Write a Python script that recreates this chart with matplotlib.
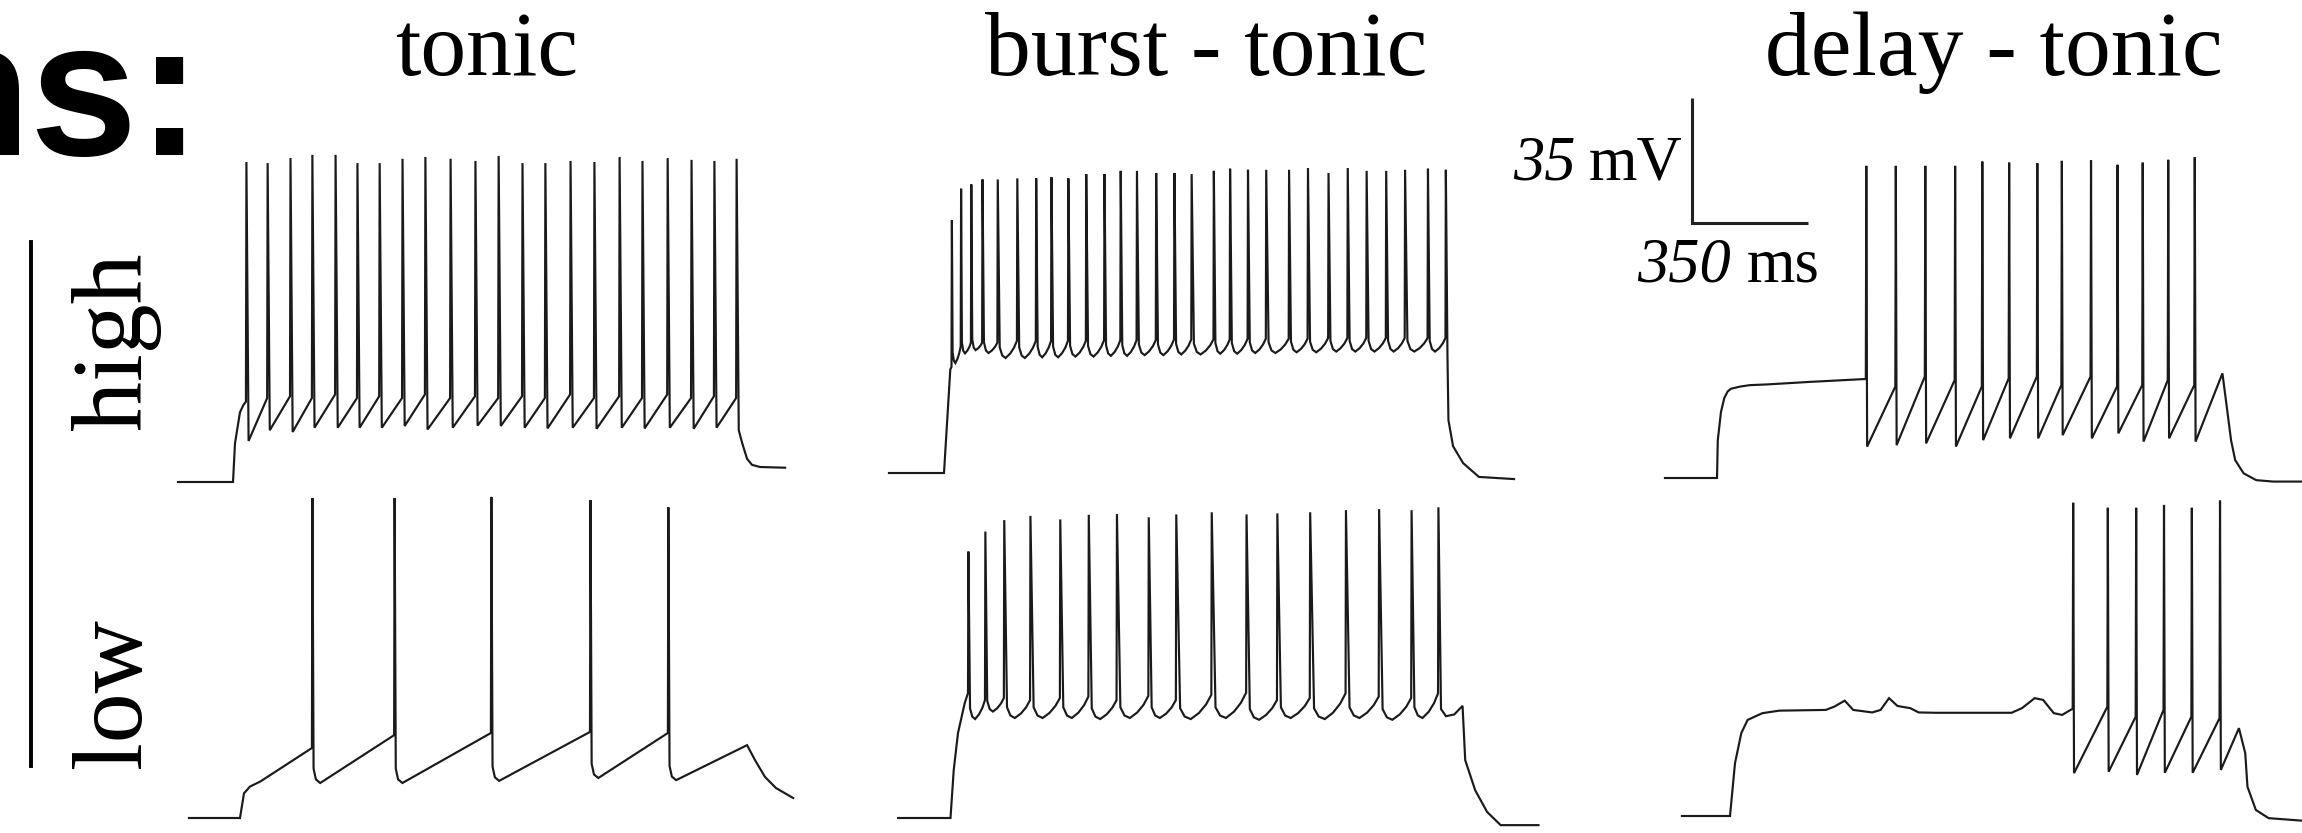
"""Firing-pattern voltage traces: tonic, burst-tonic and delay-tonic at high and low drive."""

import matplotlib
matplotlib.use("Agg")
import matplotlib.pyplot as plt
from matplotlib.lines import Line2D

FIG_W, FIG_H, DPI = 2302, 833, 100
PX_PER_MS = 116 / 350
PX_PER_MV = 125 / 35
V_REST = -65.0

SCALE_MS = 350
SCALE_MV = 35

COLUMN_TITLES = ["tonic", "burst - tonic", "delay - tonic"]
ROW_LABELS = ["high", "low"]

# --- tonic, high drive (ms, mV)
TH_RANGE = [-166, 1666]
TH_ONSET_T = [0, 6, 21, 31]
TH_ONSET_V = [-65, -54.2, -45.5, -43.5]
TH_SPIKES = [39, 103, 172, 238, 308, 374, 441, 510, 579, 655, 730, 800, 872, 941,
             1017, 1089, 1165, 1234, 1310, 1382, 1451, 1518]
TH_PEAKS = [24.6, 24.3, 25.7, 26.6, 26.6, 24.3, 24.3, 25.5, 26.0, 25.5, 24.9, 26.3,
            24.3, 24.3, 24.9, 24.6, 26.0, 24.9, 25.7, 25.2, 24.9, 25.5]
TH_TROUGHS = [-53.5, -50.5, -51.0, -49.8, -49.8, -49.8, -49.8, -49.3, -50.3, -49.8, -49.2,
              -49.3, -49.8, -50.0, -49.8, -50.1, -49.8, -50.0, -49.8, -50.1, -49.8, -50.5]
TH_THRESH = [-42.5, -41.5, -41.0, -41.5, -40.5, -41.5, -41.0, -41.5, -40.5, -41.5, -41.0,
             -41.5, -41.0, -41.5, -40.5, -41.5, -41.0, -41.5, -40.5, -41.5, -41.0, -41.5]
TH_OFFSET_T = [1536, 1551, 1566, 1590, 1666]
TH_OFFSET_V = [-54.0, -58.5, -60.2, -60.8, -61.0]

# --- tonic, low drive
TL_RANGE = [-154, 1669]
TL_ONSET_T = [0, 12, 30, 61]
TL_ONSET_V = [-65, -58.1, -56.2, -54.8]
TL_SPIKES = [217, 465, 757, 1056, 1291]
TL_PEAKS = [24.6, 24.6, 24.9, 24.0, 22.0]
TL_TROUGHS = [-55.2, -55.2, -54.6, -53.8, -54.4]
TL_THRESH = [-45.4, -41.8, -41.2, -40.9, -41.2]
TL_OFFSET_T = [1530, 1554, 1584, 1617, 1669]
TL_OFFSET_V = [-44.6, -48.8, -53.5, -56.6, -59.4]

# --- burst-tonic, high drive
BH_RANGE = [-166, 1720]
BH_ONSET_T = [0, 19]
BH_ONSET_V = [-65, -36]
BH_SPIKES = [22.6, 50.4, 81.2, 115, 161, 220, 277, 323, 374, 428, 483, 532, 581, 639, 694,
             746, 813, 862, 916, 971, 1040, 1097, 1159, 1217, 1274, 1333, 1390, 1459, 1513]
BH_PEAKS = [5.8, 14.6, 15.8, 17.2, 17.2, 17.5, 17.5, 17.8, 17.5, 18.7, 18.7, 19.6, 19.6, 19.0,
            19.0, 18.7, 19.6, 20.2, 19.9, 19.9, 19.9, 20.4, 19.0, 20.4, 19.6, 19.6, 19.9,
            20.2, 19.9]
BH_TROUGHS = [-34.2, -31.5, -30.6, -31.4, -32.8, -32.8, -32.6, -32.6, -32.4, -32.4, -32.2,
              -32.2, -32.0, -32.0, -31.8, -31.8, -31.6, -31.6, -31.4, -31.4, -31.2, -31.2,
              -31.0, -31.0, -31.0, -31.0, -31.0, -31.0, -31.0]
BH_THRESH = [-35.3, -29.5, -28.5, -28.5, -28.5, -28.0, -28.0, -28.0, -28.0, -28.0, -27.8,
             -27.8, -27.8, -27.8, -27.6, -27.6, -27.6, -27.6, -27.4, -27.4, -27.4, -27.4,
             -27.2, -27.2, -27.2, -27.2, -27.2, -27.2, -27.2]
BH_OFFSET_T = [1519, 1522, 1536, 1566, 1614, 1720]
BH_OFFSET_V = [-31.5, -50.2, -57.5, -62.2, -66.1, -66.7]

# --- burst-tonic, low drive
BL_RANGE = [-158, 1774]
BL_ONSET_T = [0, 9.7, 22.6, 43]
BL_ONSET_V = [-65, -51.6, -41.2, -32.8]
BL_SPIKES = [52.8, 104, 161, 240, 330, 416, 501, 597, 680, 787, 892, 985, 1084, 1192,
             1292, 1390, 1471]
BL_PEAKS = [9.6, 15.2, 18.4, 19.6, 18.6, 19.9, 20.1, 19.2, 20.0, 20.6, 20.0, 20.3, 20.6,
            21.2, 21.5, 21.2, 22.0]
BL_TROUGHS = [-37.3, -35.2, -37.0, -37.0, -37.0, -37.3, -37.0, -37.0, -37.3, -37.0, -37.5,
              -37.0, -37.3, -37.0, -37.5, -37.0, -36.5]
BL_THRESH = [-30.0, -32.0, -31.4, -32.0, -31.4, -31.0, -32.0, -30.8, -32.0, -30.5, -29.9,
             -32.0, -31.4, -30.1, -31.0, -31.4, -30.1]
BL_OFFSET_T = [1480, 1495, 1520, 1545, 1553, 1583, 1619, 1660, 1774]
BL_OFFSET_V = [-34.5, -36.5, -36.0, -33.6, -48.8, -57.2, -63.3, -67.0, -67.0]

# --- delay-tonic, high drive
DH_RANGE = [-157, 1765]
DH_ONSET_T = [0, 2.4, 12, 22, 32, 42, 70, 99, 151, 278, 444]
DH_ONSET_V = [-65, -54.4, -46.5, -42.6, -40.8, -40.0, -39.4, -39.0, -38.8, -38.1, -37.3]
DH_SPIKES = [449, 538, 627, 717, 799, 880, 965, 1039, 1127, 1207, 1283, 1360, 1440]
DH_PEAKS = [22.4, 22.4, 22.4, 22.4, 23.6, 23.3, 23.1, 23.8, 23.9, 22.7, 23.3, 24.1, 24.8]
DH_TROUGHS = [-56.2, -55.8, -55.3, -56.2, -54.4, -53.9, -53.9, -53.0, -53.9, -52.5, -54.8,
              -53.9, -54.8]
DH_THRESH = [-37.3, -39.4, -36.6, -37.6, -39.4, -37.1, -36.6, -39.0, -36.6, -39.4, -39.0,
             -37.6, -39.0]
DH_OFFSET_T = [1525, 1538, 1551, 1563.5, 1589, 1627, 1678, 1765]
DH_OFFSET_V = [-35.7, -45.0, -54.4, -60.0, -63.7, -65.6, -66.0, -66.0]

# --- delay-tonic, low drive
DL_RANGE = [-145, 1725]
DL_ONSET_T = [0, 15.1, 34.1, 53.1, 97.8, 148.8, 288.8, 314.4, 346.1, 371.8, 429.1, 454.4,
              479.8, 505.4, 543.8, 569.1, 620.1, 849.4, 881.1, 919.4, 944.8, 976.8, 1002.1,
              1027.5]
DL_ONSET_V = [-65, -50.2, -41.8, -38.1, -36.2, -35.5, -35.3, -34.4, -32.7, -35.3, -36.0,
              -35.3, -32.0, -34.2, -34.8, -36.0, -36.1, -36.1, -34.8, -32.0, -32.5, -36.2,
              -36.7, -35.3]
DL_SPIKES = [1034, 1138.5, 1224, 1308, 1392, 1477]
DL_PEAKS = [22.7, 21.3, 21.3, 22.1, 21.3, 23.3]
DL_TROUGHS = [-53.0, -52.6, -53.5, -52.9, -52.9, -52.1]
DL_THRESH = [-35.0, -34.4, -37.2, -35.3, -37.2, -37.6]
DL_OFFSET_T = [1535.6, 1554.6, 1561.3, 1586.6, 1625, 1725]
DL_OFFSET_V = [-40.4, -47.4, -56.8, -63.3, -65.6, -66.3]

TRACE_COLOR = "#1a1a1a"
SERIF = ["Liberation Serif", "DejaVu Serif"]


def saw_train(spikes, peaks, troughs, thresh, fall=6.0):
    """Spike, straight fall to the trough, linear ramp to the next spike."""
    t, v = [], []
    for i, ts in enumerate(spikes):
        t += [ts, ts + 1.5, ts + fall]
        v += [thresh[i], peaks[i], troughs[i]]
    return t, v


def rounded_train(spikes, peaks, troughs, thresh):
    """Like saw_train but with a rounded after-hyperpolarisation."""
    t, v = [], []
    for i, ts in enumerate(spikes):
        t += [ts, ts + 1.5, ts + 5, ts + 12, ts + 25]
        v += [thresh[i], peaks[i], troughs[i] + 4, troughs[i] + 1, troughs[i]]
    return t, v


def burst_train(spikes, peaks, troughs, thresh):
    """Spikes separated by U-shaped interspike trajectories."""
    t, v = [], []
    for i, ts in enumerate(spikes):
        t += [ts, ts + 1.2]
        v += [thresh[i], peaks[i]]
        if i + 1 == len(spikes):
            break
        isi = spikes[i + 1] - ts
        depth = thresh[i + 1] - troughs[i]
        lo = troughs[i]
        for frac, level in zip([0.12, 0.25, 0.42, 0.65, 0.85],
                               [lo + 3.0, lo + 0.7, lo, lo + 0.25 * depth, lo + 0.6 * depth]):
            t.append(ts + frac * isi)
            v.append(level)
    return t, v


def assemble(span, onset_t, onset_v, train, offset_t, offset_v):
    t = [span[0]] + onset_t + train[0] + offset_t
    v = [V_REST] + onset_v + train[1] + offset_v
    return t, v


def trace_axes(fig, x_on, y_rest, name):
    # Full-figure transparent axes whose ms/mV origin sits at the given pixel anchor.
    ax = fig.add_axes([0, 0, 1, 1], label=name)
    ax.set_xlim(-x_on / PX_PER_MS, (FIG_W - x_on) / PX_PER_MS)
    ax.set_ylim(V_REST - (FIG_H - y_rest) / PX_PER_MV, V_REST + y_rest / PX_PER_MV)
    ax.axis("off")
    ax.patch.set_alpha(0)
    return ax


def fx(px):
    return px / FIG_W


def fy(py):
    return 1 - py / FIG_H


def main() -> None:
    fig = plt.figure(figsize=(FIG_W / DPI, FIG_H / DPI), dpi=DPI)
    fig.patch.set_facecolor("white")

    traces = [
        ("tonic-high", 233, 482,
         assemble(TH_RANGE, TH_ONSET_T, TH_ONSET_V,
                  saw_train(TH_SPIKES, TH_PEAKS, TH_TROUGHS, TH_THRESH, fall=8.0),
                  TH_OFFSET_T, TH_OFFSET_V)),
        ("tonic-low", 240, 818,
         assemble(TL_RANGE, TL_ONSET_T, TL_ONSET_V,
                  rounded_train(TL_SPIKES, TL_PEAKS, TL_TROUGHS, TL_THRESH),
                  TL_OFFSET_T, TL_OFFSET_V)),
        ("burst-high", 944, 473,
         assemble(BH_RANGE, BH_ONSET_T, BH_ONSET_V,
                  burst_train(BH_SPIKES, BH_PEAKS, BH_TROUGHS, BH_THRESH),
                  BH_OFFSET_T, BH_OFFSET_V)),
        ("burst-low", 950.5, 818,
         assemble(BL_RANGE, BL_ONSET_T, BL_ONSET_V,
                  burst_train(BL_SPIKES, BL_PEAKS, BL_TROUGHS, BL_THRESH),
                  BL_OFFSET_T, BL_OFFSET_V)),
        ("delay-high", 1717, 478,
         assemble(DH_RANGE, DH_ONSET_T, DH_ONSET_V,
                  saw_train(DH_SPIKES, DH_PEAKS, DH_TROUGHS, DH_THRESH, fall=4.0),
                  DH_OFFSET_T, DH_OFFSET_V)),
        ("delay-low", 1730, 816,
         assemble(DL_RANGE, DL_ONSET_T, DL_ONSET_V,
                  saw_train(DL_SPIKES, DL_PEAKS, DL_TROUGHS, DL_THRESH, fall=4.0),
                  DL_OFFSET_T, DL_OFFSET_V)),
    ]

    axes = {}
    for name, x_on, y_rest, (t, v) in traces:
        ax = trace_axes(fig, x_on, y_rest, name)
        ax.plot(t, v, color=TRACE_COLOR, lw=1.55, solid_joinstyle="miter")
        axes[name] = ax

    # scale bar sits in the delay-tonic (high) frame
    ax = axes["delay-high"]
    x0, y0 = -75, 6.4
    ax.plot([x0, x0, x0 + SCALE_MS], [y0 + SCALE_MV, y0, y0], color="#222222", lw=2.2,
            solid_joinstyle="miter", solid_capstyle="butt")

    # numbers in italics, units upright
    fig.text(fx(1683), fy(180), "mV", ha="right", va="baseline", fontsize=45, family=SERIF)
    fig.text(fx(1576), fy(180), str(SCALE_MV), ha="right", va="baseline", fontsize=45,
             family=SERIF, style="italic")
    fig.text(fx(1637), fy(282), str(SCALE_MS), ha="left", va="baseline", fontsize=45,
             family=SERIF, style="italic")
    fig.text(fx(1820), fy(282), "ms", ha="right", va="baseline", fontsize=45, family=SERIF)

    for title, cx in zip(COLUMN_TITLES, [487, 1206, 1994]):
        fig.text(fx(cx), fy(75), title, ha="center", va="baseline", fontsize=66, family=SERIF)

    for label, cy in zip(ROW_LABELS, [341, 693]):
        fig.text(fx(116), fy(cy), label, ha="center", va="center", rotation=90,
                 fontsize=72, family=SERIF)

    fig.add_artist(Line2D([fx(31), fx(31)], [fy(242), fy(766)], color="black", lw=2.8))

    # heading spills in from the left edge
    fig.text(fx(-87), fy(155), "ns:", ha="left", va="baseline", fontsize=139,
             fontweight="bold", family=["Liberation Sans", "DejaVu Sans"])

    fig.savefig("out.png", dpi=DPI, facecolor="white")
    plt.close(fig)


if __name__ == "__main__":
    main()
